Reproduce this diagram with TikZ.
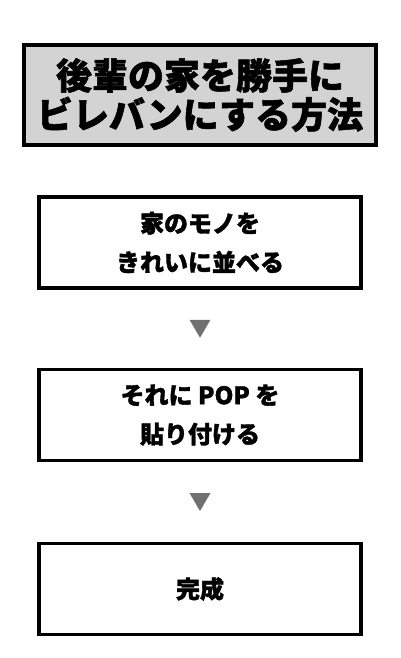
\documentclass[tikz,border=0pt]{standalone}
\usepackage{fontspec}
\setmainfont{Noto Sans CJK JP}[BoldFeatures={FakeBold=1.5}]
\usetikzlibrary{calc}
\definecolor{titlegray}{HTML}{D3D3D3}
\definecolor{arrowgray}{HTML}{707070}
\begin{document}
\begin{tikzpicture}[x=1pt,y=1pt,
  titlebox/.style={draw=black, line width=4pt, fill=titlegray, minimum width=352pt, minimum height=100pt, inner sep=0pt, align=center, font=\fontsize{36}{39}\selectfont\bfseries},
  stepbox/.style={draw=black, line width=3.5pt, fill=white, minimum width=322pt, minimum height=91pt, inner sep=0pt, align=center, font=\fontsize{24}{39}\selectfont\bfseries}]
\useasboundingbox (0,0) rectangle (400,-658);
\node[titlebox] (title) at (200,-95) {後輩の家を勝手に\\ビレバンにする方法};
\node[stepbox] (b1) at (200,-242.5) {家のモノを\\きれいに並べる};
\node[stepbox] (b2) at (200,-415) {それに POP を\\貼り付ける};
\node[stepbox] (b3) at (200,-589) {完成};
\path (b1.south) -- (b2.north) coordinate[midway] (m1);
\path (b2.south) -- (b3.north) coordinate[midway] (m2);
\fill[arrowgray] ($(m1)+(-10.5,9)$) -- ++(21,0) -- ++(-10.5,-18) -- cycle;
\fill[arrowgray] ($(m2)+(-10.5,9)$) -- ++(21,0) -- ++(-10.5,-18) -- cycle;
\end{tikzpicture}
\end{document}
